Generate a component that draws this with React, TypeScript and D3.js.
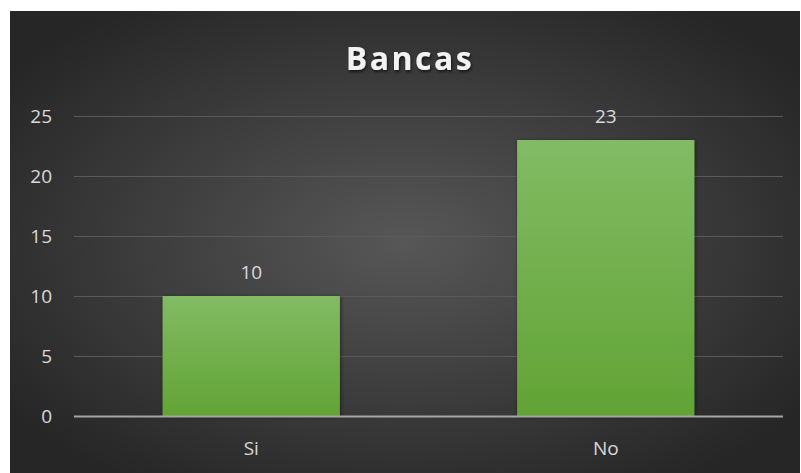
import React from "react";
import * as d3 from "d3";

const categories = ["Si", "No"];
const values = [10, 23];
const yTicks = [0, 5, 10, 15, 20, 25];
const title = "Bancas";

const W = 801;
const H = 473;
const frame = { x: 10, y: 11, w: 790, h: 462 };
const plot = { left: 74, right: 783, top: 116, bottom: 416 };

export default function App() {
  const x = d3
    .scaleBand<string>()
    .domain(categories)
    .range([plot.left, plot.right])
    .paddingInner(0.5)
    .paddingOuter(0.25);
  const y = d3.scaleLinear().domain([0, 25]).range([plot.bottom, plot.top]);
  const font = "'Open Sans', 'DejaVu Sans', sans-serif";

  return (
    <svg
      width={W}
      height={H}
      style={{ position: "absolute", left: 0, top: 0, background: "#fff" }}
    >
      <defs>
        <radialGradient id="bg" cx="0.5" cy="0.5" r="0.62">
          <stop offset="0" stopColor="#575757" />
          <stop offset="1" stopColor="#262626" />
        </radialGradient>
        <linearGradient id="bar" x1="0" y1="0" x2="0" y2="1">
          <stop offset="0" stopColor="#82bb64" />
          <stop offset="1" stopColor="#62a335" />
        </linearGradient>
        <filter id="ts" x="-10%" y="-20%" width="120%" height="150%">
          <feDropShadow dx="1" dy="2" stdDeviation="1.5" floodColor="#000" floodOpacity="0.6" />
        </filter>
        <filter id="bs" x="-10%" y="-10%" width="120%" height="120%">
          <feDropShadow dx="1" dy="1" stdDeviation="2" floodColor="#000" floodOpacity="0.45" />
        </filter>
      </defs>
      <rect x={frame.x} y={frame.y} width={frame.w} height={frame.h} fill="url(#bg)" />
      <text
        x={410}
        y={70}
        textAnchor="middle"
        fill="#f2f2f2"
        fontFamily={font}
        fontWeight="bold"
        fontSize={32}
        letterSpacing={2.5}
        filter="url(#ts)"
      >
        {title}
      </text>
      {yTicks.map((t) => (
        <g key={t}>
          {t > 0 && (
            <line
              x1={plot.left}
              x2={plot.right}
              y1={y(t) + 0.5}
              y2={y(t) + 0.5}
              stroke="#5a5a5a"
              strokeWidth={1}
            />
          )}
          <text
            x={52}
            y={y(t) + 7}
            textAnchor="end"
            fill="#d9d9d9"
            fontFamily={font}
            fontSize={19}
          >
            {t}
          </text>
        </g>
      ))}
      {categories.map((c, i) => (
        <g key={c}>
          <rect
            x={x(c)}
            y={y(values[i])}
            width={x.bandwidth()}
            height={y(0) - y(values[i])}
            fill="url(#bar)"
            filter="url(#bs)"
          />
          <text
            x={(x(c) as number) + x.bandwidth() / 2}
            y={y(values[i]) - 17}
            textAnchor="middle"
            fill="#d9d9d9"
            fontFamily={font}
            fontSize={19}
          >
            {values[i]}
          </text>
          <text
            x={(x(c) as number) + x.bandwidth() / 2}
            y={455}
            textAnchor="middle"
            fill="#d9d9d9"
            fontFamily={font}
            fontSize={19}
          >
            {c}
          </text>
        </g>
      ))}
      <line
        x1={plot.left}
        x2={plot.right}
        y1={y(0) + 0.5}
        y2={y(0) + 0.5}
        stroke="#a6a6a6"
        strokeWidth={2}
      />
    </svg>
  );
}
